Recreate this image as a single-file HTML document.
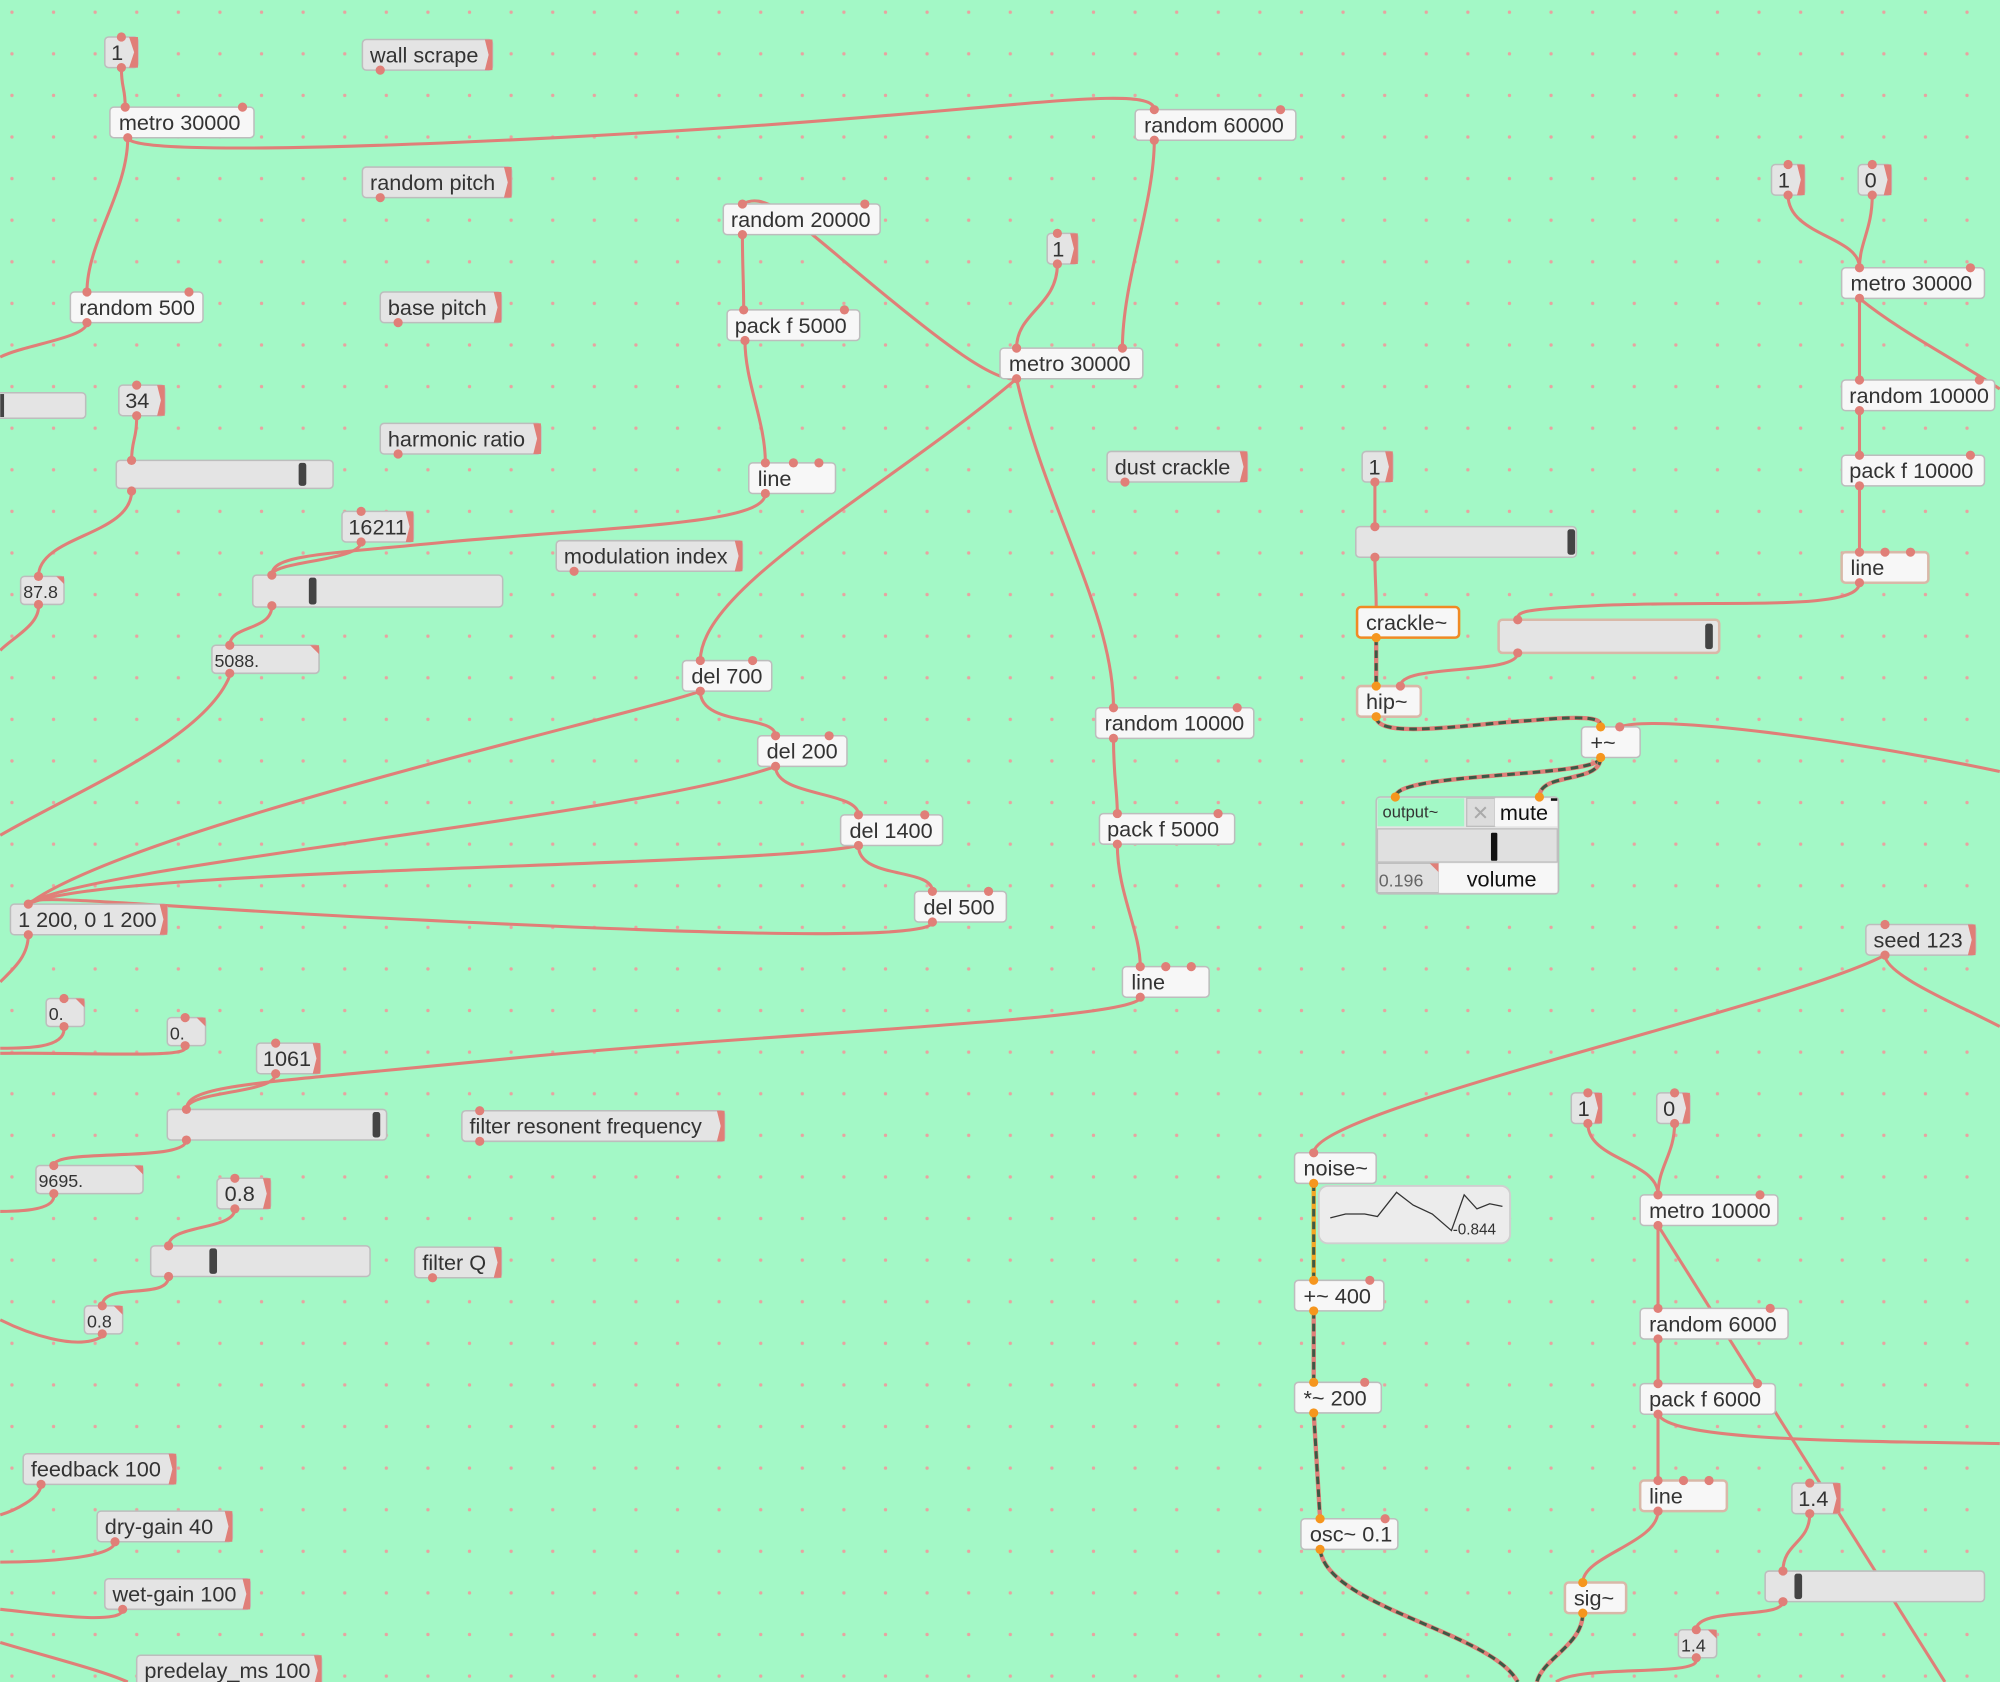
<!DOCTYPE html>
<html><head><meta charset="utf-8"><style>
html,body{margin:0;padding:0;background:#a3f8c6;}
svg{display:block}
text{font-family:"Liberation Sans",sans-serif;font-size:17px;fill:#333}
.o{fill:#f7f7f7;stroke:#bdbdbd;stroke-width:1.2}
.m{fill:#e4e4e4;stroke:#bdbdbd;stroke-width:1.2}
.e{fill:none;stroke:#e07f78;stroke-width:2.4}
.s{fill:none;stroke:#e07f78;stroke-width:3.4}
.d{fill:none;stroke:#3d5a45;stroke-width:2.4;stroke-dasharray:6 4}
.f{fill:#e07f78}
.k{fill:#444}
circle{r:3.6}
</style></head><body>
<svg width="2000" height="1682" viewBox="0 0 1568 1319" xmlns="http://www.w3.org/2000/svg">
<defs><pattern id="g" x="9.2" y="9.6" width="32.62" height="32.62" patternUnits="userSpaceOnUse"><rect x="-1.3" y="-1.3" width="2.6" height="2.6" rx="1.3" fill="#e8a3a0"/><rect x="31.3" y="-1.3" width="2.6" height="2.6" rx="1.3" fill="#e8a3a0"/><rect x="-1.3" y="31.3" width="2.6" height="2.6" rx="1.3" fill="#e8a3a0"/><rect x="31.3" y="31.3" width="2.6" height="2.6" rx="1.3" fill="#e8a3a0"/></pattern></defs>
<rect width="1568" height="1319" fill="#a3f8c6"/>
<rect width="1568" height="1319" fill="url(#g)"/>

<g class="e">
<path d="M95 53 C95 70 98 68 98 84"/>
<path d="M100 108 C100 125 400 112 600 98 C800 84 905 66 905 86"/>
<path d="M100 108 C100 150 68 190 68 229"/>
<path d="M68 253 C68 265 20 270 0 280"/>
<path d="M905 110 C905 160 880 220 880 273"/>
<path d="M582 184 C582 210 583 220 583 243"/>
<path d="M797 297 C780 300 740 270 680 220 C620 170 600 150 582 160"/>
<path d="M829 207 C829 240 797 245 797 273"/>
<path d="M584 267 C584 300 600 330 600 363"/>
<path d="M600 387 C600 410 500 412 350 425 C250 435 213 435 213 451"/>
<path d="M283 425 C283 440 213 440 213 451"/>
<path d="M213 475 C213 495 180 490 180 506"/>
<path d="M180 530 C160 580 60 620 0 655"/>
<path d="M107 326 C107 345 103 345 103 361"/>
<path d="M103 385 C103 420 30 420 30 452"/>
<path d="M30 476 C30 490 10 500 0 510"/>
<path d="M797 297 C700 380 549 460 549 518"/>
<path d="M797 297 C820 400 873 480 873 555"/>
<path d="M549 542 C549 570 608 560 608 577"/>
<path d="M549 542 C500 560 100 650 22 709"/>
<path d="M608 601 C608 625 673 620 673 639"/>
<path d="M608 601 C500 640 60 680 22 709"/>
<path d="M673 663 C673 690 731 680 731 699"/>
<path d="M673 663 C600 680 80 680 22 709"/>
<path d="M731 723 C731 740 500 730 300 720 C100 710 22 700 22 709"/>
<path d="M22 733 C22 750 10 760 0 770"/>
<path d="M873 579 C873 610 876 620 876 638"/>
<path d="M876 662 C876 700 894 730 894 758"/>
<path d="M894 782 C894 800 600 810 400 830 C200 850 146 850 146 870"/>
<path d="M216 842 C216 858 146 855 146 870"/>
<path d="M50 807 C50 822 20 822 0 822"/>
<path d="M145 822 C145 830 60 825 0 826"/>
<path d="M146 894 C146 912 42 900 42 914"/>
<path d="M42 938 C42 950 10 950 0 950"/>
<path d="M184 948 C184 965 132 960 132 977"/>
<path d="M132 1001 C132 1020 80 1005 80 1024"/>
<path d="M80 1048 C60 1060 20 1045 0 1035"/>
<path d="M32 1164 C32 1175 10 1185 0 1188"/>
<path d="M90 1209 C90 1222 30 1225 0 1225"/>
<path d="M96 1262 C96 1275 30 1265 0 1262"/>
<path d="M100 1319 C80 1310 40 1300 0 1288"/>
<path d="M1402 153 C1402 185 1458 185 1458 210"/>
<path d="M1468 153 C1468 180 1458 190 1458 210"/>
<path d="M1458 234 C1458 260 1458 280 1458 298"/>
<path d="M1458 234 C1490 260 1530 280 1568 305"/>
<path d="M1458 322 C1458 340 1458 340 1458 357"/>
<path d="M1458 381 C1458 400 1458 415 1458 433"/>
<path d="M1458 457 C1458 480 1350 470 1250 475 C1190 478 1190 480 1190 486"/>
<path d="M1190 512 C1190 530 1098 520 1098 538"/>
<path d="M1078 378 C1078 395 1078 400 1078 413"/>
<path d="M1078 437 C1078 455 1079 460 1079 476"/>
<path d="M1568 605 C1450 580 1300 560 1270 570"/>
<path d="M1478 749 C1400 790 1030 870 1030 904"/>
<path d="M1478 749 C1478 765 1540 790 1568 805"/>
<path d="M1245 881 C1245 910 1300 910 1300 937"/>
<path d="M1313 881 C1313 905 1300 915 1300 937"/>
<path d="M1300 961 C1300 990 1300 1000 1300 1026"/>
<path d="M1300 961 L1525 1319"/>
<path d="M1300 1050 C1300 1070 1300 1070 1300 1085"/>
<path d="M1300 1109 C1300 1140 1300 1140 1300 1161"/>
<path d="M1300 1109 C1310 1130 1450 1130 1568 1132"/>
<path d="M1300 1185 C1300 1210 1241 1220 1241 1241"/>
<path d="M1419 1187 C1419 1210 1398 1210 1398 1232"/>
<path d="M1398 1256 C1398 1270 1330 1260 1330 1278"/>
<path d="M1330 1302 C1330 1315 1240 1305 1220 1319"/>
</g>
<g>
<path class="s" d="M1079 500 L1079 538"/><path class="d" d="M1079 500 L1079 538"/>
<path class="s" d="M1079 562 C1079 580 1150 568 1200 565 C1255 560 1255 565 1255 570"/><path class="d" d="M1079 562 C1079 580 1150 568 1200 565 C1255 560 1255 565 1255 570"/>
<path class="s" d="M1255 594 C1255 610 1094 605 1094 625"/><path class="d" d="M1255 594 C1255 610 1094 605 1094 625"/>
<path class="s" d="M1255 594 C1255 615 1207 605 1207 625"/><path class="d" d="M1255 594 C1255 615 1207 605 1207 625"/>
<path d="M1030 928 L1030 1004" fill="none" stroke="#f5a623" stroke-width="3.4"/><path class="d" d="M1030 928 L1030 1004"/>
<path class="s" d="M1030 1028 L1030 1084"/><path class="d" d="M1030 1028 L1030 1084"/>
<path class="s" d="M1030 1108 L1035 1191"/><path class="d" d="M1030 1108 L1035 1191"/>
<path class="s" d="M1035 1215 C1040 1260 1170 1280 1190 1319"/><path class="d" d="M1035 1215 C1040 1260 1170 1280 1190 1319"/>
<path class="s" d="M1241 1265 C1241 1290 1210 1300 1205 1319"/><path class="d" d="M1241 1265 C1241 1290 1210 1300 1205 1319"/>
</g>

<g>
<rect class="m" x="82" y="29" width="26" height="24" rx="3"/><path class="f" d="M101 29h7v24h-7l4-12z"/><text x="87" y="47">1</text>
<rect class="m" x="284" y="31" width="102" height="24" rx="3"/><path class="f" d="M380 31h6v24h-6l3-12z"/><text x="290" y="49">wall scrape</text>
<rect class="m" x="284" y="131" width="117" height="24" rx="3"/><path class="f" d="M395 131h6v24h-6l3-12z"/><text x="290" y="149">random pitch</text>
<rect class="m" x="821" y="183" width="24" height="24" rx="3"/><path class="f" d="M839 183h6v24h-6l3-12z"/><text x="825" y="201">1</text>
<rect class="m" x="1389" y="129" width="26" height="24" rx="3"/><path class="f" d="M1409 129h6v24h-6l3-12z"/><text x="1394" y="147">1</text>
<rect class="m" x="1457" y="129" width="26" height="24" rx="3"/><path class="f" d="M1477 129h6v24h-6l3-12z"/><text x="1462" y="147">0</text>
<rect class="m" x="298" y="229" width="95" height="24" rx="3"/><path class="f" d="M387 229h6v24h-6l3-12z"/><text x="304" y="247">base pitch</text>
<rect class="m" x="93" y="302" width="36" height="24" rx="3"/><path class="f" d="M123 302h6v24h-6l3-12z"/><text x="98" y="320">34</text>
<rect class="m" x="298" y="332" width="126" height="24" rx="3"/><path class="f" d="M418 332h6v24h-6l3-12z"/><text x="304" y="350">harmonic ratio</text>
<rect class="m" x="868" y="354" width="110" height="24" rx="3"/><path class="f" d="M972 354h6v24h-6l3-12z"/><text x="874" y="372">dust crackle</text>
<rect class="m" x="1068" y="354" width="24" height="24" rx="3"/><path class="f" d="M1086 354h6v24h-6l3-12z"/><text x="1073" y="372">1</text>
<rect class="m" x="268" y="401" width="56" height="24" rx="3"/><path class="f" d="M318 401h6v24h-6l3-12z"/><text x="273" y="419">16211</text>
<rect class="m" x="436" y="424" width="146" height="24" rx="3"/><path class="f" d="M576 424h6v24h-6l3-12z"/><text x="442" y="442">modulation index</text>
<rect class="m" x="8" y="709" width="123" height="24" rx="3"/><path class="f" d="M125 709h6v24h-6l3-12z"/><text x="14" y="727">1 200, 0 1 200</text>
<rect class="m" x="1463" y="725" width="86" height="24" rx="3"/><path class="f" d="M1543 725h6v24h-6l3-12z"/><text x="1469" y="743">seed 123</text>
<rect class="m" x="201" y="818" width="50" height="24" rx="3"/><path class="f" d="M245 818h6v24h-6l3-12z"/><text x="206" y="836">1061</text>
<rect class="m" x="362" y="871" width="206" height="24" rx="3"/><path class="f" d="M562 871h6v24h-6l3-12z"/><text x="368" y="889">filter resonent frequency</text>
<rect class="m" x="1232" y="857" width="24" height="24" rx="3"/><path class="f" d="M1250 857h6v24h-6l3-12z"/><text x="1237" y="875">1</text>
<rect class="m" x="1299" y="857" width="26" height="24" rx="3"/><path class="f" d="M1319 857h6v24h-6l3-12z"/><text x="1304" y="875">0</text>
<rect class="m" x="170" y="924" width="42" height="24" rx="3"/><path class="f" d="M206 924h6v24h-6l3-12z"/><text x="176" y="942">0.8</text>
<rect class="m" x="325" y="978" width="68" height="24" rx="3"/><path class="f" d="M387 978h6v24h-6l3-12z"/><text x="331" y="996">filter Q</text>
<rect class="m" x="18" y="1140" width="120" height="24" rx="3"/><path class="f" d="M132 1140h6v24h-6l3-12z"/><text x="24" y="1158">feedback 100</text>
<rect class="m" x="1405" y="1163" width="38" height="24" rx="3"/><path class="f" d="M1437 1163h6v24h-6l3-12z"/><text x="1410" y="1181">1.4</text>
<rect class="m" x="76" y="1185" width="106" height="24" rx="3"/><path class="f" d="M176 1185h6v24h-6l3-12z"/><text x="82" y="1203">dry-gain 40</text>
<rect class="m" x="82" y="1238" width="114" height="24" rx="3"/><path class="f" d="M190 1238h6v24h-6l3-12z"/><text x="88" y="1256">wet-gain 100</text>
<rect class="m" x="107" y="1298" width="145" height="24" rx="3"/><path class="f" d="M246 1298h6v24h-6l3-12z"/><text x="113" y="1316">predelay_ms 100</text>
</g>

<g>
<rect class="o" x="86" y="84" width="113" height="24" rx="3"/><text x="93" y="102">metro 30000</text>
<rect class="o" x="890" y="86" width="126" height="24" rx="3"/><text x="897" y="104">random 60000</text>
<rect class="o" x="567" y="160" width="123" height="24" rx="3"/><text x="573" y="178">random 20000</text>
<rect class="o" x="1444" y="210" width="112" height="24" rx="3"/><text x="1451" y="228">metro 30000</text>
<rect class="o" x="55" y="229" width="104" height="24" rx="3"/><text x="62" y="247">random 500</text>
<rect class="o" x="570" y="243" width="104" height="24" rx="3"/><text x="576" y="261">pack f 5000</text>
<rect class="o" x="784" y="273" width="112" height="24" rx="3"/><text x="791" y="291">metro 30000</text>
<rect class="o" x="1444" y="298" width="120" height="24" rx="3"/><text x="1450" y="316">random 10000</text>
<rect class="o" x="587" y="363" width="68" height="24" rx="3"/><text x="594" y="381">line</text>
<rect class="o" x="1444" y="357" width="112" height="24" rx="3"/><text x="1450" y="375">pack f 10000</text>
<rect class="o" x="1444" y="433" width="68" height="24" rx="3" style="stroke:#d9b8a8;stroke-width:2"/><text x="1451" y="451">line</text>
<rect class="o" x="1064" y="476" width="80" height="24" rx="3" style="stroke:#f08a24;stroke-width:2"/><text x="1071" y="494">crackle~</text>
<rect class="o" x="535" y="518" width="70" height="24" rx="3"/><text x="542" y="536">del 700</text>
<rect class="o" x="1064" y="538" width="50" height="24" rx="3" style="stroke:#d9b8a8;stroke-width:2"/><text x="1071" y="556">hip~</text>
<rect class="o" x="859" y="555" width="124" height="24" rx="3"/><text x="866" y="573">random 10000</text>
<rect class="o" x="594" y="577" width="70" height="24" rx="3"/><text x="601" y="595">del 200</text>
<rect class="o" x="1240" y="570" width="46" height="24" rx="3"/><text x="1247" y="588">+~</text>
<rect class="o" x="659" y="639" width="80" height="24" rx="3"/><text x="666" y="657">del 1400</text>
<rect class="o" x="862" y="638" width="106" height="24" rx="3"/><text x="868" y="656">pack f 5000</text>
<rect class="o" x="717" y="699" width="72" height="24" rx="3"/><text x="724" y="717">del 500</text>
<rect class="o" x="880" y="758" width="68" height="24" rx="3"/><text x="887" y="776">line</text>
<rect class="o" x="1015" y="904" width="64" height="24" rx="3"/><text x="1022" y="922">noise~</text>
<rect class="o" x="1286" y="937" width="108" height="24" rx="3"/><text x="1293" y="955">metro 10000</text>
<rect class="o" x="1015" y="1004" width="70" height="24" rx="3"/><text x="1022" y="1022">+~ 400</text>
<rect class="o" x="1286" y="1026" width="116" height="24" rx="3"/><text x="1293" y="1044">random 6000</text>
<rect class="o" x="1015" y="1084" width="68" height="24" rx="3"/><text x="1022" y="1102">*~ 200</text>
<rect class="o" x="1286" y="1085" width="106" height="24" rx="3"/><text x="1293" y="1103">pack f 6000</text>
<rect class="o" x="1286" y="1161" width="68" height="24" rx="3" style="stroke:#d9b8a8;stroke-width:2"/><text x="1293" y="1179">line</text>
<rect class="o" x="1020" y="1191" width="76" height="24" rx="3"/><text x="1027" y="1209">osc~ 0.1</text>
<rect class="o" x="1227" y="1241" width="48" height="24" rx="3" style="stroke:#d9b8a8;stroke-width:2"/><text x="1234" y="1259">sig~</text>
</g>

<g>
<rect class="m" x="-5" y="308" width="72" height="20" rx="3"/><rect class="k" x="0" y="309" width="3" height="18"/>
<rect class="m" x="91" y="361" width="170" height="22" rx="3"/><rect class="k" x="234" y="363" width="6" height="18" rx="2"/>
<rect class="m" x="1063" y="413" width="173" height="24" rx="3"/><rect class="k" x="1229" y="415" width="6" height="20" rx="2"/>
<rect class="m" x="198" y="451" width="196" height="25" rx="3"/><rect class="k" x="242" y="453" width="6" height="21" rx="2"/>
<rect class="m" x="1175" y="486" width="173" height="26" rx="3" style="stroke:#d9b8a8;stroke-width:2"/><rect class="k" x="1337" y="489" width="6" height="20" rx="2"/>
<rect class="m" x="131" y="870" width="172" height="24" rx="3"/><rect class="k" x="292" y="872" width="6" height="20" rx="2"/>
<rect class="m" x="118" y="977" width="172" height="24" rx="3"/><rect class="k" x="164" y="979" width="6" height="20" rx="2"/>
<rect class="m" x="1384" y="1232" width="172" height="24" rx="3"/><rect class="k" x="1407" y="1234" width="6" height="20" rx="2"/>
</g>

<g>
<rect class="m" x="16" y="452" width="34" height="22" rx="3"/><path class="f" d="M44 452h6v6z"/><text x="18" y="469" style="font-size:14px">87.8</text>
<rect class="m" x="166" y="506" width="84" height="22" rx="3"/><path class="f" d="M243 506h7v7z"/><text x="168" y="523" style="font-size:14px">5088.</text>
<rect class="m" x="36" y="783" width="30" height="22" rx="3"/><path class="f" d="M59 783h7v7z"/><text x="38" y="800" style="font-size:14px">0.</text>
<rect class="m" x="131" y="798" width="30" height="22" rx="3"/><path class="f" d="M154 798h7v7z"/><text x="133" y="815" style="font-size:14px">0.</text>
<rect class="m" x="28" y="914" width="84" height="22" rx="3"/><path class="f" d="M105 914h7v7z"/><text x="30" y="931" style="font-size:14px">9695.</text>
<rect class="m" x="66" y="1024" width="30" height="22" rx="3"/><path class="f" d="M89 1024h7v7z"/><text x="68" y="1041" style="font-size:14px">0.8</text>
<rect class="m" x="1316" y="1278" width="30" height="22" rx="3"/><path class="f" d="M1339 1278h7v7z"/><text x="1318" y="1295" style="font-size:14px">1.4</text>
</g>

<g>
<rect x="1079" y="625" width="143" height="76" rx="3" fill="#e4e4e4" stroke="#bdbdbd" stroke-width="1.2"/>
<rect x="1080" y="626" width="68" height="22" fill="#a3f8c6"/>
<text x="1084" y="641" style="font-size:13px">output~</text>
<rect x="1150" y="626" width="22" height="22" fill="#dcdcdc" stroke="#bdbdbd"/>
<text x="1154" y="643" style="font-size:16px;fill:#aaa">✕</text>
<rect x="1172" y="626" width="49" height="22" fill="#f7f7f7"/>
<text x="1176" y="643" style="fill:#111">mute</text>
<rect x="1216" y="626" width="5" height="2" fill="#111"/>
<rect x="1080" y="650" width="141" height="26" fill="#e0e0e0" stroke="#bdbdbd"/>
<rect x="1169" y="653" width="5" height="22" rx="1" fill="#111"/>
<rect x="1080" y="677" width="48" height="23" fill="#e0e0e0" stroke="#bdbdbd"/>
<path class="f" d="M1121 677h7v7z"/>
<text x="1081" y="695" style="font-size:14px;fill:#666">0.196</text>
<rect x="1128" y="677" width="93" height="23" fill="#f7f7f7"/>
<text x="1150" y="695" style="fill:#111">volume</text>
</g>

<g>
<rect x="1034" y="930" width="150" height="45" rx="7" fill="#ececec" stroke="#cfcfcf" stroke-width="1.5"/>
<polyline points="1043,955 1055,952 1070,952 1080,954 1095,935 1108,945 1123,952 1138,965 1148,937 1158,948 1168,944 1178,946" fill="none" stroke="#333" stroke-width="1"/>
<text x="1139" y="968" style="font-size:12px">-0.844</text>
</g>

<g fill="#e07f78">
<circle cx="95" cy="29" r="3.6"/><circle cx="95" cy="53" r="3.6"/>
<circle cx="98" cy="84" r="3.6"/><circle cx="190" cy="84" r="3.6"/><circle cx="100" cy="108" r="3.6"/>
<circle cx="905" cy="86" r="3.6"/><circle cx="1004" cy="86" r="3.6"/><circle cx="905" cy="110" r="3.6"/>
<circle cx="582" cy="160" r="3.6"/><circle cx="678" cy="160" r="3.6"/><circle cx="582" cy="184" r="3.6"/>
<circle cx="829" cy="183" r="3.6"/><circle cx="829" cy="207" r="3.6"/>
<circle cx="1402" cy="129" r="3.6"/><circle cx="1402" cy="153" r="3.6"/><circle cx="1468" cy="129" r="3.6"/><circle cx="1468" cy="153" r="3.6"/>
<circle cx="1458" cy="210" r="3.6"/><circle cx="1545" cy="210" r="3.6"/><circle cx="1458" cy="234" r="3.6"/>
<circle cx="68" cy="229" r="3.6"/><circle cx="148" cy="229" r="3.6"/><circle cx="68" cy="253" r="3.6"/>
<circle cx="583" cy="243" r="3.6"/><circle cx="662" cy="243" r="3.6"/><circle cx="584" cy="267" r="3.6"/>
<circle cx="797" cy="273" r="3.6"/><circle cx="880" cy="273" r="3.6"/><circle cx="797" cy="297" r="3.6"/>
<circle cx="1458" cy="298" r="3.6"/><circle cx="1552" cy="298" r="3.6"/><circle cx="1458" cy="322" r="3.6"/>
<circle cx="1458" cy="357" r="3.6"/><circle cx="1545" cy="357" r="3.6"/><circle cx="1458" cy="381" r="3.6"/>
<circle cx="600" cy="363" r="3.6"/><circle cx="622" cy="363" r="3.6"/><circle cx="642" cy="363" r="3.6"/><circle cx="600" cy="387" r="3.6"/>
<circle cx="1458" cy="433" r="3.6"/><circle cx="1478" cy="433" r="3.6"/><circle cx="1498" cy="433" r="3.6"/><circle cx="1458" cy="457" r="3.6"/>
<circle cx="107" cy="302" r="3.6"/><circle cx="107" cy="326" r="3.6"/>
<circle cx="103" cy="361" r="3.6"/><circle cx="103" cy="385" r="3.6"/>
<circle cx="1078" cy="378" r="3.6"/><circle cx="1078" cy="413" r="3.6"/><circle cx="1078" cy="437" r="3.6"/>
<circle cx="283" cy="401" r="3.6"/><circle cx="283" cy="425" r="3.6"/>
<circle cx="213" cy="451" r="3.6"/><circle cx="213" cy="475" r="3.6"/>
<circle cx="1190" cy="486" r="3.6"/><circle cx="1190" cy="512" r="3.6"/>
<circle cx="30" cy="452" r="3.6"/><circle cx="30" cy="474" r="3.6"/>
<circle cx="180" cy="506" r="3.6"/><circle cx="180" cy="528" r="3.6"/>
<circle cx="549" cy="518" r="3.6"/><circle cx="590" cy="518" r="3.6"/><circle cx="549" cy="542" r="3.6"/>
<circle cx="873" cy="555" r="3.6"/><circle cx="970" cy="555" r="3.6"/><circle cx="873" cy="579" r="3.6"/>
<circle cx="608" cy="577" r="3.6"/><circle cx="650" cy="577" r="3.6"/><circle cx="608" cy="601" r="3.6"/>
<circle cx="1270" cy="570" r="3.6"/><circle cx="1098" cy="538" r="3.6"/>
<circle cx="673" cy="639" r="3.6"/><circle cx="725" cy="639" r="3.6"/><circle cx="673" cy="663" r="3.6"/>
<circle cx="876" cy="638" r="3.6"/><circle cx="955" cy="638" r="3.6"/><circle cx="876" cy="662" r="3.6"/>
<circle cx="731" cy="699" r="3.6"/><circle cx="775" cy="699" r="3.6"/><circle cx="731" cy="723" r="3.6"/>
<circle cx="22" cy="709" r="3.6"/><circle cx="22" cy="733" r="3.6"/>
<circle cx="1478" cy="725" r="3.6"/><circle cx="1478" cy="749" r="3.6"/>
<circle cx="894" cy="758" r="3.6"/><circle cx="914" cy="758" r="3.6"/><circle cx="934" cy="758" r="3.6"/><circle cx="894" cy="782" r="3.6"/>
<circle cx="50" cy="783" r="3.6"/><circle cx="50" cy="805" r="3.6"/><circle cx="145" cy="798" r="3.6"/><circle cx="145" cy="820" r="3.6"/>
<circle cx="216" cy="818" r="3.6"/><circle cx="216" cy="842" r="3.6"/>
<circle cx="146" cy="870" r="3.6"/><circle cx="146" cy="894" r="3.6"/>
<circle cx="376" cy="871" r="3.6"/><circle cx="376" cy="895" r="3.6"/>
<circle cx="1245" cy="857" r="3.6"/><circle cx="1245" cy="881" r="3.6"/><circle cx="1313" cy="857" r="3.6"/><circle cx="1313" cy="881" r="3.6"/>
<circle cx="1030" cy="904" r="3.6"/>
<circle cx="42" cy="914" r="3.6"/><circle cx="42" cy="936" r="3.6"/>
<circle cx="184" cy="924" r="3.6"/><circle cx="184" cy="948" r="3.6"/>
<circle cx="1300" cy="937" r="3.6"/><circle cx="1380" cy="937" r="3.6"/><circle cx="1300" cy="961" r="3.6"/>
<circle cx="132" cy="977" r="3.6"/><circle cx="132" cy="1001" r="3.6"/>
<circle cx="80" cy="1024" r="3.6"/><circle cx="80" cy="1046" r="3.6"/>
<circle cx="1300" cy="1026" r="3.6"/><circle cx="1388" cy="1026" r="3.6"/><circle cx="1300" cy="1050" r="3.6"/>
<circle cx="1300" cy="1085" r="3.6"/><circle cx="1378" cy="1085" r="3.6"/><circle cx="1300" cy="1109" r="3.6"/>
<circle cx="1300" cy="1161" r="3.6"/><circle cx="1320" cy="1161" r="3.6"/><circle cx="1340" cy="1161" r="3.6"/><circle cx="1300" cy="1185" r="3.6"/>
<circle cx="1419" cy="1163" r="3.6"/><circle cx="1419" cy="1187" r="3.6"/>
<circle cx="1398" cy="1232" r="3.6"/><circle cx="1398" cy="1256" r="3.6"/>
<circle cx="1330" cy="1278" r="3.6"/><circle cx="1330" cy="1300" r="3.6"/>
<circle cx="1074" cy="1004" r="3.6"/><circle cx="1070" cy="1084" r="3.6"/><circle cx="1086" cy="1191" r="3.6"/>
<circle cx="32" cy="1164" r="3.6"/><circle cx="90" cy="1209" r="3.6"/><circle cx="96" cy="1262" r="3.6"/>
<circle cx="298" cy="55" r="3.6"/><circle cx="298" cy="155" r="3.6"/><circle cx="312" cy="253" r="3.6"/><circle cx="312" cy="356" r="3.6"/><circle cx="882" cy="378" r="3.6"/><circle cx="450" cy="448" r="3.6"/><circle cx="339" cy="1002" r="3.6"/>
</g>
<g fill="#f5961e">
<circle cx="1079" cy="500" r="3.6"/><circle cx="1079" cy="538" r="3.6"/><circle cx="1079" cy="562" r="3.6"/>
<circle cx="1255" cy="570" r="3.6"/><circle cx="1255" cy="594" r="3.6"/><circle cx="1094" cy="625" r="3.6"/><circle cx="1207" cy="625" r="3.6"/>
<circle cx="1030" cy="928" r="3.6"/><circle cx="1030" cy="1004" r="3.6"/><circle cx="1030" cy="1028" r="3.6"/>
<circle cx="1030" cy="1084" r="3.6"/><circle cx="1030" cy="1108" r="3.6"/><circle cx="1035" cy="1191" r="3.6"/><circle cx="1035" cy="1215" r="3.6"/>
<circle cx="1241" cy="1241" r="3.6"/><circle cx="1241" cy="1265" r="3.6"/>
</g>
</svg>
</body></html>
